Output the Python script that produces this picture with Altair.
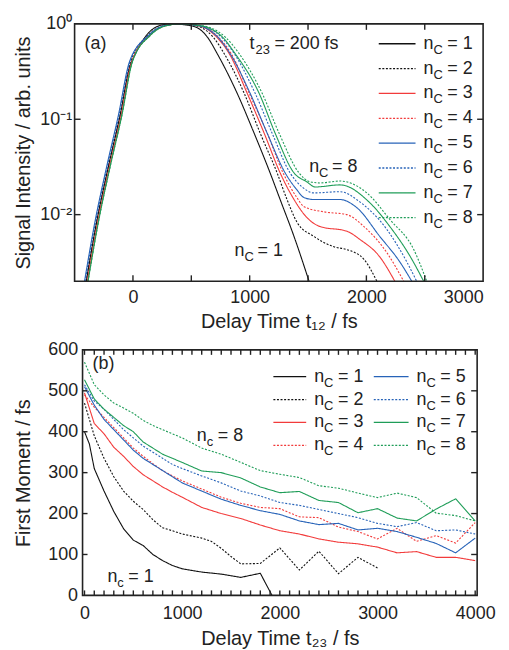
import altair as alt
import pandas as pd

# ---------------- series styling ----------------
NAMES = ["1", "2", "3", "4", "5", "6", "7", "8"]
COLORS = ["#111111", "#111111", "#f23b3b", "#f23b3b", "#2763b8", "#2763b8", "#1f9d58", "#1f9d58"]
DASHES = [[1, 0], [2, 1.6], [1, 0], [2, 1.6], [1, 0], [2, 1.6], [1, 0], [2, 1.6]]

# ---------------- panel (a): signal vs t12 (fs) ----------------
a_t1 = [-400, -310, -210, -110, -20, 0, 120, 230, 330, 450, 551, 640, 722, 893, 1038, 1175, 1261, 1380, 1509]
a_i1 = [0.002, 0.0085, 0.032, 0.11, 0.38, 0.43, 0.77, 0.96, 1.0, 0.975, 0.91, 0.72, 0.487, 0.187, 0.0715, 0.0274, 0.0144, 0.0059, 0.002]
a_t2 = [-400, -310, -210, -110, -20, 130, 260, 400, 500, 590, 690, 782, 953, 1090, 1235, 1320, 1406, 1551, 1722, 1833, 1979, 2090]
a_i2 = [0.002, 0.0085, 0.032, 0.11, 0.40, 0.76, 0.95, 1.0, 0.975, 0.91, 0.72, 0.487, 0.187, 0.0715, 0.0274, 0.0144, 0.0083, 0.0059, 0.0046, 0.0043, 0.0034, 0.002]
a_t3 = [-390, -300, -200, -100, -10, 140, 270, 400, 520, 615, 720, 825, 979, 1124, 1261, 1380, 1491, 1603, 1833, 1944, 2115, 2244]
a_i3 = [0.002, 0.0085, 0.032, 0.11, 0.40, 0.75, 0.95, 1.0, 0.975, 0.91, 0.72, 0.487, 0.187, 0.0715, 0.0274, 0.0144, 0.0093, 0.0075, 0.0067, 0.0055, 0.0036, 0.002]
a_t4 = [-390, -300, -200, -100, -10, 140, 270, 400, 520, 625, 735, 842, 996, 1150, 1286, 1406, 1466, 1637, 1833, 1979, 2175, 2320]
a_i4 = [0.002, 0.0085, 0.032, 0.11, 0.40, 0.75, 0.95, 1.0, 0.975, 0.91, 0.72, 0.487, 0.187, 0.0715, 0.0274, 0.0150, 0.0121, 0.0107, 0.0100, 0.0075, 0.0040, 0.002]
a_t5 = [-415, -325, -225, -125, -30, 130, 260, 400, 520, 620, 730, 833, 1004, 1150, 1304, 1400, 1466, 1551, 1774, 1919, 2115, 2286, 2389]
a_i5 = [0.002, 0.0085, 0.032, 0.11, 0.40, 0.75, 0.95, 1.0, 0.975, 0.91, 0.72, 0.487, 0.187, 0.0715, 0.0274, 0.0185, 0.0151, 0.0144, 0.0144, 0.0118, 0.0059, 0.0032, 0.002]
a_t6 = [-410, -320, -220, -120, -25, 130, 260, 400, 520, 640, 760, 868, 1047, 1192, 1346, 1450, 1551, 1774, 1944, 2175, 2346, 2431]
a_i6 = [0.002, 0.0085, 0.032, 0.11, 0.40, 0.75, 0.95, 1.0, 0.975, 0.91, 0.72, 0.487, 0.187, 0.0715, 0.0274, 0.0195, 0.0169, 0.0174, 0.0136, 0.0070, 0.0032, 0.002]
a_t7 = [-385, -295, -195, -95, -5, 145, 275, 410, 530, 645, 770, 876, 1081, 1218, 1380, 1491, 1560, 1774, 2030, 2201, 2372, 2491]
a_i7 = [0.002, 0.0085, 0.032, 0.11, 0.40, 0.75, 0.95, 1.0, 0.975, 0.91, 0.72, 0.487, 0.187, 0.0715, 0.0274, 0.0220, 0.0195, 0.0205, 0.0133, 0.0075, 0.0037, 0.002]
a_t8 = [-385, -295, -195, -95, -5, 145, 275, 410, 540, 665, 795, 910, 1107, 1252, 1423, 1517, 1600, 1774, 2004, 2201, 2406, 2517]
a_i8 = [0.002, 0.0085, 0.032, 0.11, 0.40, 0.75, 0.95, 1.0, 0.975, 0.91, 0.72, 0.487, 0.187, 0.0715, 0.0274, 0.0221, 0.0215, 0.0225, 0.0169, 0.0089, 0.0043, 0.002]

# ---------------- panel (b): first moment vs t23 (fs) ----------------
b_t1 = [0, 50, 100, 200, 300, 400, 500, 600, 700, 800, 900, 1000, 1200, 1400, 1600, 1800, 1920]
b_m1 = [400, 370, 310, 255, 205, 163, 135, 122, 100, 85, 73, 65, 57, 52, 44, 54, 0]
b_t2 = [0, 100, 200, 300, 400, 500, 600, 700, 800, 900, 1000, 1100, 1200, 1300, 1400, 1500, 1600, 1800, 2000, 2200, 2400, 2600, 2800, 3000]
b_m2 = [470, 390, 335, 290, 255, 230, 210, 185, 165, 158, 150, 145, 140, 132, 115, 95, 77, 78, 116, 62, 108, 53, 93, 67]
b_tg = [0, 100, 200, 300, 400, 500, 600, 700, 800, 900, 1000, 1200, 1400, 1600, 1800, 2000, 2200, 2400, 2600, 2800, 3000, 3200, 3400, 3600, 3800, 4000]
b_m3 = [495, 420, 395, 362, 340, 315, 295, 280, 265, 252, 240, 215, 200, 188, 172, 158, 150, 138, 130, 126, 118, 104, 107, 93, 93, 85]
b_m4 = [490, 460, 435, 410, 385, 360, 340, 322, 305, 292, 280, 260, 240, 225, 215, 212, 192, 190, 167, 156, 138, 164, 132, 146, 128, 178]
b_m5 = [510, 465, 430, 405, 380, 355, 335, 320, 305, 290, 275, 255, 235, 220, 207, 198, 182, 173, 176, 160, 164, 156, 142, 127, 104, 140]
b_m6 = [515, 475, 455, 430, 405, 385, 365, 350, 335, 320, 310, 292, 275, 255, 243, 227, 220, 210, 200, 190, 176, 168, 178, 158, 160, 150]
b_m7 = [527, 480, 455, 435, 415, 400, 375, 360, 345, 335, 325, 304, 300, 287, 265, 251, 254, 232, 227, 202, 212, 189, 182, 211, 236, 182]
b_m8 = [570, 515, 490, 470, 458, 445, 428, 415, 405, 395, 385, 360, 345, 325, 305, 296, 288, 268, 262, 250, 239, 250, 239, 201, 195, 182]

A_SERIES = [(a_t1, a_i1), (a_t2, a_i2), (a_t3, a_i3), (a_t4, a_i4),
            (a_t5, a_i5), (a_t6, a_i6), (a_t7, a_i7), (a_t8, a_i8)]
B_SERIES = [(b_t1, b_m1), (b_t2, b_m2), (b_tg, b_m3), (b_tg, b_m4),
            (b_tg, b_m5), (b_tg, b_m6), (b_tg, b_m7), (b_tg, b_m8)]

rows = []
for name, (ts, vs) in zip(NAMES, A_SERIES):
    for t, v in zip(ts, vs):
        rows.append({"series": name, "t": t, "v": v})
df_a = pd.DataFrame(rows)
rows = []
for name, (ts, vs) in zip(NAMES, B_SERIES):
    for t, v in zip(ts, vs):
        rows.append({"series": name, "t": t, "v": v})
df_b = pd.DataFrame(rows)

# axis tick positions
a_xticks = [0, 500, 1000, 1500, 2000, 2500]
a_yticks = [0.1, 0.01]
b_xticks = list(range(0, 4001, 100))
b_yticks = [100, 200, 300, 400, 500]

WA, HA = 411, 259
WB, HB = 405, 247   # panel (b) group; its frame starts 8px in
BL = 8
TXT = "#222222"

COLOR = alt.Color("series:N", scale=alt.Scale(domain=NAMES, range=COLORS), legend=None)
DASH = alt.StrokeDash("series:N", scale=alt.Scale(domain=NAMES, range=DASHES), legend=None)
ONE = pd.DataFrame({"k": [0]})


def txt(x, y, s, size=18, dy=0, align="left"):
    return alt.Chart(ONE).mark_text(align=align, baseline="middle", fontSize=size, dy=dy, color=TXT).encode(
        x=alt.value(x), y=alt.value(y), text=alt.value(s))


def sublabel(x, y, main, sub, rest, wmain=10, wsub=13):
    return [txt(x, y, main), txt(x + wmain, y, sub, size=13, dy=6), txt(x + wmain + wsub, y, rest)]


def legend(df, yscale, x0, x1, xt):
    y = alt.Y("row:Q", scale=yscale, axis=None)
    base = alt.Chart(df)
    return [
        base.mark_rule(strokeWidth=1.3).encode(x=alt.value(x0), x2=alt.value(x1), y=y, color=COLOR, strokeDash=DASH),
        base.mark_text(align="left", baseline="middle", fontSize=18, color=TXT).encode(x=alt.value(xt), y=y, text=alt.value("n")),
        base.mark_text(align="left", baseline="middle", fontSize=13, dy=6, color=TXT).encode(x=alt.value(xt + 10), y=y, text=alt.value("C")),
        base.mark_text(align="left", baseline="middle", fontSize=18, color=TXT).encode(x=alt.value(xt + 24), y=y, text="rest:N"),
    ]


tk = dict(color=TXT, strokeWidth=1.4)

# ---------------- panel (a) ----------------
xa = alt.X("t:Q", scale=alt.Scale(domain=[-500, 3000], nice=False, zero=False),
           axis=alt.Axis(values=[0, 1000, 2000, 3000], format="d", title="Delay Time t₁₂ / fs",
                         labelPadding=7, titlePadding=5))
ya = alt.Y("v:Q", scale=alt.Scale(type="log", domain=[0.002, 1], nice=False),
           axis=alt.Axis(values=[1, 0.1, 0.01], title="Signal Intensity / arb. units",
                         labelExpr="datum.value > 0.5 ? '10⁰' : (datum.value > 0.05 ? '10⁻¹' : '10⁻²')",
                         labelPadding=3, titlePadding=6))

lines_a = alt.Chart(df_a).mark_line(strokeWidth=1.1, interpolate="monotone", clip=True).encode(
    x=xa, y=ya, color=COLOR, strokeDash=DASH)
dxa = pd.DataFrame({"t": a_xticks})
dya = pd.DataFrame({"v": a_yticks})
ticks_a = [
    alt.Chart(dxa).mark_rule(**tk).encode(x=xa, y=alt.value(HA), y2=alt.value(HA - 6)),
    alt.Chart(dxa).mark_rule(**tk).encode(x=xa, y=alt.value(0), y2=alt.value(6)),
    alt.Chart(dya).mark_rule(**tk).encode(y=ya, x=alt.value(0), x2=alt.value(6)),
    alt.Chart(dya).mark_rule(**tk).encode(y=ya, x=alt.value(WA), x2=alt.value(WA - 6)),
]
frame_a = alt.Chart(ONE).mark_rect(fillOpacity=0, stroke=TXT, strokeWidth=1.6).encode(
    x=alt.value(0), x2=alt.value(WA), y=alt.value(0), y2=alt.value(HA))
ann_a = [txt(10, 20, "(a)")] + sublabel(176, 20, "t", "23", "= 200 fs", wmain=6, wsub=19) \
    + sublabel(236, 144, "n", "C", "= 8") + sublabel(161, 229, "n", "C", "= 1")
main_a = alt.layer(lines_a, *ticks_a, frame_a, *ann_a)

leg_a_df = pd.DataFrame({"row": list(range(8)), "series": NAMES, "rest": ["= " + n for n in NAMES]})
leg_a = alt.layer(*legend(leg_a_df, alt.Scale(domain=[0, 7], range=[20, 195]), 306, 343, 351))
panel_a = alt.layer(main_a, leg_a).resolve_scale(y="independent").properties(width=WA, height=HA)

# ---------------- panel (b) ----------------
xb = alt.X("t:Q", scale=alt.Scale(domain=[-20, 4020], range=[BL, WB], nice=False, zero=False),
           axis=alt.Axis(values=[0, 1000, 2000, 3000, 4000], format="d", title="Delay Time t₂₃ / fs",
                         labelPadding=9, titlePadding=6))
yb = alt.Y("v:Q", scale=alt.Scale(domain=[0, 600], nice=False, zero=False),
           axis=alt.Axis(values=[0, 100, 200, 300, 400, 500, 600], title="First Moment / fs",
                         offset=-BL, labelPadding=5, titlePadding=14))
lines_b = alt.Chart(df_b).mark_line(strokeWidth=1.1, clip=True).encode(x=xb, y=yb, color=COLOR, strokeDash=DASH)
dxb = pd.DataFrame({"t": b_xticks})
dyb = pd.DataFrame({"v": b_yticks})
ticks_b = [
    alt.Chart(dxb).mark_rule(**tk).encode(x=xb, y=alt.value(HB), y2=alt.value(HB - 5)),
    alt.Chart(dxb).mark_rule(**tk).encode(x=xb, y=alt.value(0), y2=alt.value(5)),
    alt.Chart(dyb).mark_rule(**tk).encode(y=yb, x=alt.value(BL), x2=alt.value(BL + 5)),
    alt.Chart(dyb).mark_rule(**tk).encode(y=yb, x=alt.value(WB), x2=alt.value(WB - 6)),
]
frame_b = alt.Chart(ONE).mark_rect(fillOpacity=0, stroke=TXT, strokeWidth=1.6).encode(
    x=alt.value(BL), x2=alt.value(WB), y=alt.value(0), y2=alt.value(HB))
ann_b = [txt(BL + 10, 14, "(b)")] + sublabel(BL + 115, 87, "n", "c", "= 8", wsub=11) \
    + sublabel(BL + 25, 229, "n", "c", "= 1", wsub=11)
main_b = alt.layer(lines_b, *ticks_b, frame_b, *ann_b)

leg_b1 = pd.DataFrame({"row": [0, 1, 2, 3], "series": NAMES[:4], "rest": ["= " + n for n in NAMES[:4]]})
leg_b2 = pd.DataFrame({"row": [0, 1, 2, 3], "series": NAMES[4:], "rest": ["= " + n for n in NAMES[4:]]})
ysb = alt.Scale(domain=[0, 3], range=[27, 96])
leg_b = alt.layer(*legend(leg_b1, ysb, BL + 192, BL + 225, BL + 233),
                  *legend(leg_b2, ysb, BL + 293, BL + 328, BL + 336))
panel_b = alt.layer(main_b, leg_b).resolve_scale(y="independent").properties(width=WB, height=HB)

chart = alt.vconcat(panel_a, panel_b, spacing=10).configure(
    font="Liberation Sans", padding=5
).configure_axis(
    labelFont="Liberation Sans", titleFont="Liberation Sans", labelFontSize=18, titleFontSize=20,
    labelColor=TXT, titleColor=TXT, titleFontWeight="normal", grid=False, ticks=False, domain=False
).configure_view(strokeOpacity=0).configure_text(font="Liberation Sans")

chart.save("out.html", embed_options={"renderer": "svg", "actions": False})
